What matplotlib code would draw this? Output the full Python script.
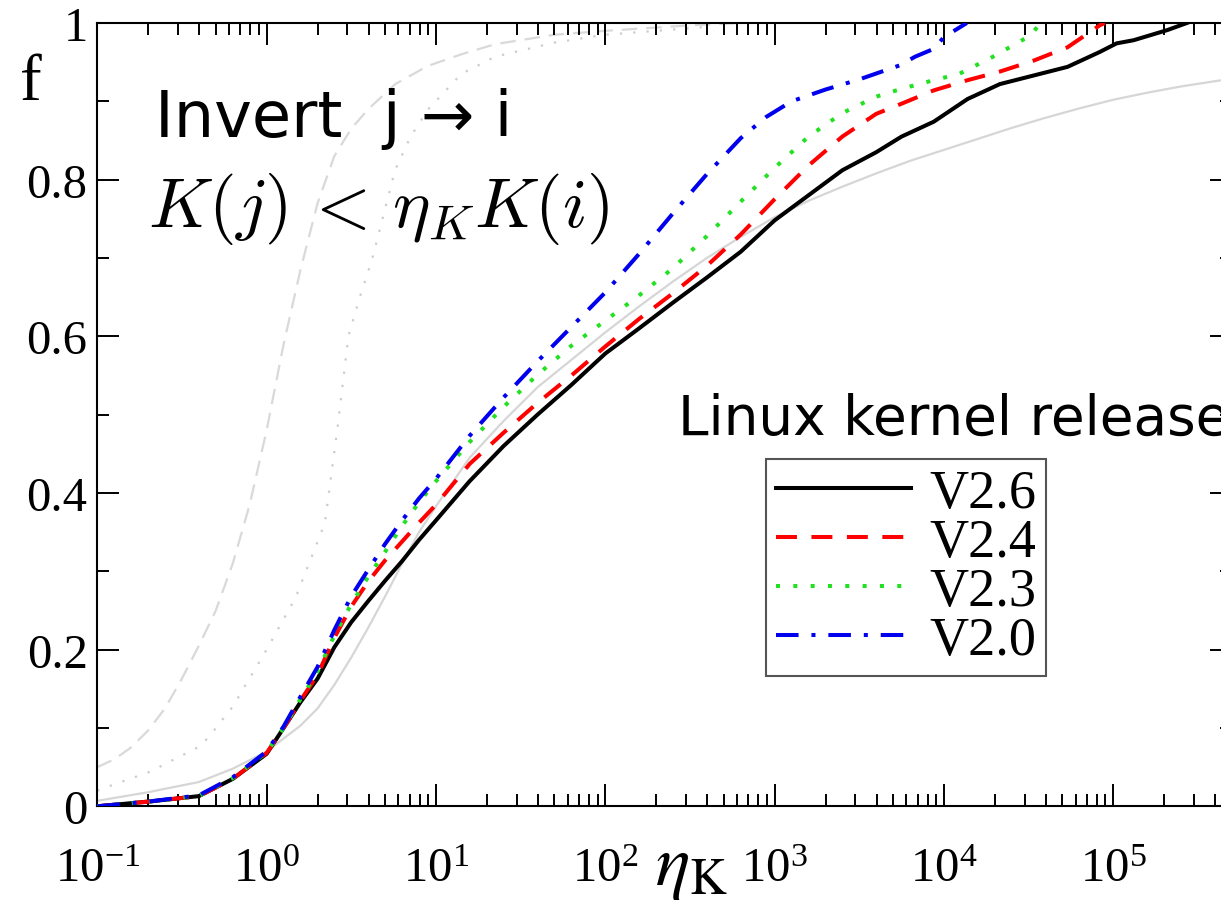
import math
import matplotlib
matplotlib.use("Agg")
import matplotlib.pyplot as plt
from matplotlib.ticker import FixedLocator, FuncFormatter, LogLocator, MultipleLocator, NullFormatter

plt.rcParams['font.family'] = ['Liberation Serif', 'DejaVu Serif']
plt.rcParams['mathtext.fontset'] = 'stix'

# ---------------- data ----------------
x_v26 = [0.1, 0.2, 0.398, 0.631, 1.0, 1.26, 1.585, 2.0, 2.51, 3.16, 3.98, 5.01, 6.31, 7.94,
         10, 15.8, 25.1, 39.8, 63.1, 100, 158, 251, 398, 631, 1000, 1585, 2512, 3981, 5623,
         8710, 13800, 21400, 33900, 53700, 83200, 104700, 131800, 208900, 272300]
f_v26 = [0.000, 0.006, 0.013, 0.035, 0.067, 0.100, 0.133, 0.163, 0.203, 0.235, 0.262, 0.288,
         0.313, 0.340, 0.365, 0.415, 0.460, 0.500, 0.538, 0.578, 0.610, 0.643, 0.675, 0.708,
         0.748, 0.780, 0.812, 0.835, 0.855, 0.874, 0.903, 0.922, 0.933, 0.944, 0.963, 0.974,
         0.978, 0.991, 1.000]

x_v24 = [0.1, 0.2, 0.398, 0.631, 1.0, 1.26, 1.585, 2.0, 2.51, 3.16, 3.98, 5.01, 6.31, 7.94,
         10, 15.8, 25.1, 39.8, 63.1, 100, 158, 251, 398, 631, 1000, 1585, 2512, 3981, 5623,
         8710, 13800, 21400, 33900, 53700, 83200, 89100]
f_v24 = [0.000, 0.006, 0.013, 0.035, 0.068, 0.100, 0.135, 0.168, 0.215, 0.255, 0.287, 0.314,
         0.338, 0.362, 0.385, 0.437, 0.477, 0.515, 0.550, 0.587, 0.622, 0.655, 0.690, 0.730,
         0.775, 0.818, 0.855, 0.884, 0.897, 0.914, 0.927, 0.938, 0.952, 0.969, 0.997, 1.000]

x_v23 = [0.1, 0.2, 0.398, 0.631, 1.0, 1.26, 1.585, 2.0, 2.51, 3.16, 3.98, 5.01, 6.31, 7.94,
         10, 15.8, 25.1, 39.8, 63.1, 100, 158, 251, 398, 631, 1000, 1585, 2512, 3981, 5623,
         8710, 12300, 19500, 32400, 37200]
f_v23 = [0.000, 0.006, 0.013, 0.036, 0.069, 0.100, 0.137, 0.172, 0.218, 0.258, 0.293, 0.325,
         0.358, 0.388, 0.415, 0.465, 0.510, 0.551, 0.588, 0.620, 0.652, 0.687, 0.728, 0.772,
         0.815, 0.855, 0.885, 0.906, 0.916, 0.927, 0.935, 0.957, 0.984, 1.000]

x_v20 = [0.1, 0.2, 0.398, 0.631, 1.0, 1.26, 1.585, 2.0, 2.51, 3.16, 3.98, 5.01, 6.31, 7.94,
         10, 15.8, 25.1, 39.8, 63.1, 100, 158, 251, 398, 631, 891, 1259, 1995, 3162, 5495,
         6761, 8710, 10000, 13650]
f_v20 = [0.000, 0.006, 0.014, 0.037, 0.070, 0.102, 0.140, 0.178, 0.225, 0.268, 0.302, 0.335,
         0.365, 0.393, 0.418, 0.473, 0.522, 0.568, 0.612, 0.656, 0.705, 0.757, 0.807, 0.853,
         0.880, 0.900, 0.915, 0.928, 0.946, 0.957, 0.967, 0.982, 1.000]

# light-grey reference curves
x_ref_solid = [0.1, 0.2, 0.398, 0.631, 1.0, 1.585, 2.0, 2.51, 3.16, 3.98, 5.01, 6.31, 7.94,
               10, 15.8, 25.1, 39.8, 63.1, 100, 158, 251, 398, 631, 1000, 1585, 2512, 3981,
               6310, 10000, 15850, 25100, 39800, 63100, 100000, 158500, 251200, 501000]
f_ref_solid = [0.007, 0.018, 0.031, 0.048, 0.070, 0.103, 0.125, 0.155, 0.190, 0.228, 0.268,
               0.310, 0.350, 0.383, 0.445, 0.492, 0.535, 0.570, 0.605, 0.638, 0.670, 0.700,
               0.727, 0.752, 0.773, 0.791, 0.808, 0.824, 0.838, 0.852, 0.866, 0.879, 0.891,
               0.902, 0.911, 0.919, 0.929]

x_ref_dash = [0.1, 0.126, 0.158, 0.2, 0.251, 0.316, 0.398, 0.501, 0.631, 0.794, 1.0, 1.26,
              1.585, 2.0, 2.51, 3.16, 3.98, 5.75, 8.91, 14.1, 22.4, 50.1, 100, 316, 631]
f_ref_dash = [0.050, 0.060, 0.075, 0.097, 0.125, 0.163, 0.205, 0.250, 0.310, 0.385, 0.480,
              0.590, 0.685, 0.770, 0.830, 0.865, 0.890, 0.922, 0.945, 0.960, 0.973, 0.985,
              0.990, 0.997, 1.000]

x_ref_dot = [0.1, 0.119, 0.204, 0.407, 0.461, 0.635, 0.728, 1.0, 1.48, 1.78, 2.21, 2.65,
             3.04, 3.55, 4.18, 5.73, 7.08, 9.02, 14.1, 22.4, 50.1, 100, 398]
f_ref_dot = [0.020, 0.026, 0.044, 0.077, 0.090, 0.128, 0.150, 0.200, 0.266, 0.310, 0.362,
             0.491, 0.600, 0.650, 0.697, 0.812, 0.855, 0.890, 0.935, 0.957, 0.975, 0.985,
             0.995]

series_labels = ['V2.6', 'V2.4', 'V2.3', 'V2.0']
ytick_values = [0, 0.2, 0.4, 0.6, 0.8, 1.0]
ytick_labels = ['0', '0.2', '0.4', '0.6', '0.8', '1']
xtick_values = [1e-1, 1e0, 1e1, 1e2, 1e3, 1e4, 1e5]

# ---------------- figure ----------------
W, H = 1221, 903
fig = plt.figure(figsize=(W / 100, H / 100), dpi=100)
L, R, B, T = 97.3, 1231.6, 807.3, 24.0
ax = fig.add_axes([L / W, 1 - B / H, (R - L) / W, (B - T) / H])

ax.plot(x_ref_solid, f_ref_solid, color='#d6d6d6', lw=1.6, zorder=1)
ax.plot(x_ref_dash, f_ref_dash, color='#d9d9d9', lw=1.6, dashes=(7, 4), zorder=1)
ax.plot(x_ref_dot, f_ref_dot, color='#cccccc', lw=1.6, dashes=(1, 5), zorder=1)

lw = 2.9
ax.plot(x_v26, f_v26, color='black', lw=lw, label=series_labels[0], zorder=3)
ax.plot(x_v24, f_v24, color='#ff0000', lw=lw, dashes=(5.2, 3.6), label=series_labels[1], zorder=4)
ax.plot(x_v23, f_v23, color='#22e022', lw=lw, dashes=(1.0, 3.3), label=series_labels[2], zorder=5)
ax.plot(x_v20, f_v20, color='#0000ee', lw=lw, dashes=(5.6, 3.2, 1.0, 3.2), label=series_labels[3], zorder=6)

ax.set_xscale('log')
ax.set_xlim(0.1, 5e5)
ax.set_ylim(0, 1)

ax.xaxis.set_major_locator(FixedLocator(xtick_values))
ax.xaxis.set_minor_locator(LogLocator(base=10, subs=[2, 3, 4, 5, 6, 7, 8, 9], numticks=50))
ax.xaxis.set_minor_formatter(NullFormatter())
ax.xaxis.set_major_formatter(FuncFormatter(lambda v, p: r'$\mathregular{10^{%d}}$' % round(math.log10(v))))
ax.yaxis.set_major_locator(FixedLocator(ytick_values))
ax.set_yticklabels(ytick_labels)
ax.yaxis.set_minor_locator(MultipleLocator(0.1))

ax.tick_params(which='both', direction='in', top=True, right=True, width=1.4, colors='black')
ax.tick_params(which='major', length=15.5, labelsize=35)
ax.tick_params(which='minor', length=8.5)
ax.tick_params(axis='y', which='major', pad=7)
ax.tick_params(axis='x', which='major', pad=29)
for s in ax.spines.values():
    s.set_linewidth(1.5)

leg = ax.legend(loc='upper left', bbox_to_anchor=((766 - L) / (R - L), (B - 460) / (B - T)),
                borderaxespad=0, fontsize=39, handlelength=2.5, handletextpad=0.33,
                labelspacing=-0.03, borderpad=0.18, fancybox=False, framealpha=1,
                edgecolor='#555555')
leg.get_frame().set_linewidth(1.5)

# texts
fig.text(31 / W, 1 - 100 / H, 'f', fontsize=47, ha='center', va='baseline')
fig.text(655 / W, 1 - 885 / H, r'$\eta_{\mathrm{K}}$', fontsize=52, ha='left', va='baseline')
fig.text(155 / W, 1 - 137 / H, 'Invert  j \u2192 i', fontsize=46, family='DejaVu Sans',
         ha='left', va='baseline')
fig.text(148 / W, 1 - 227 / H, r'$K(j) \,<\, \eta_K K(i)$', fontsize=51, math_fontfamily='cm',
         ha='left', va='baseline')
fig.text(678 / W, 1 - 435 / H, 'Linux kernel release', fontsize=39.5, family='DejaVu Sans',
         ha='left', va='baseline')

fig.savefig('out.png', dpi=100)
